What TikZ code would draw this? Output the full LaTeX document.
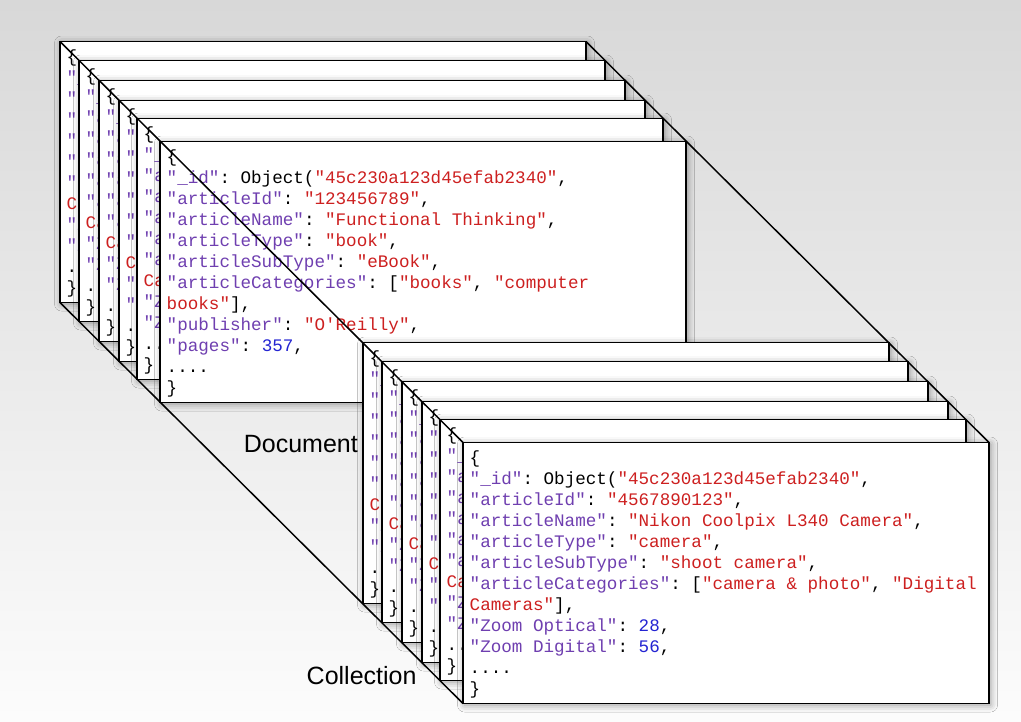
\documentclass[tikz,border=0pt]{standalone}
\usepackage{fontspec}
\setmainfont{Liberation Sans}
\setmonofont{Liberation Mono}
\usetikzlibrary{shadows.blur}

\definecolor{bgtop}{RGB}{216,216,216}
\definecolor{bgbot}{RGB}{252,252,252}
\definecolor{keycol}{RGB}{111,63,176}
\definecolor{strcol}{RGB}{205,32,32}
\definecolor{numcol}{RGB}{36,36,210}

\newcommand{\jk}[1]{\textcolor{keycol}{"#1"}}
\newcommand{\js}[1]{\textcolor{strcol}{"#1"}}
\newcommand{\jn}[1]{\textcolor{numcol}{#1}}
\newcommand{\jsonsize}{\ttfamily\fontsize{17.6}{21}\selectfont\frenchspacing}

\newcommand{\bookdoc}{\rule{0pt}{17pt}\{\\
\jk{\_id}: Object(\js{45c230a123d45efab2340},\\
\jk{articleId}: \js{123456789},\\
\jk{articleName}: \js{Functional Thinking},\\
\jk{articleType}: \js{book},\\
\jk{articleSubType}: \js{eBook},\\
\jk{articleCategories}: [\js{books}, \textcolor{strcol}{"computer}\\
\textcolor{strcol}{books"}],\\
\jk{publisher}: \js{O\textquotesingle Reilly},\\
\jk{pages}: \jn{357},\\
....\\
\}}

\newcommand{\cameradoc}{\rule{0pt}{17pt}\{\\
\jk{\_id}: Object(\js{45c230a123d45efab2340},\\
\jk{articleId}: \js{4567890123},\\
\jk{articleName}: \js{Nikon Coolpix L340 Camera},\\
\jk{articleType}: \js{camera},\\
\jk{articleSubType}: \js{shoot camera},\\
\jk{articleCategories}: [\js{camera \& photo}, \textcolor{strcol}{"Digital}\\
\textcolor{strcol}{Cameras"}],\\
\jk{Zoom Optical}: \jn{28},\\
\jk{Zoom Digital}: \jn{56},\\
....\\
\}}

\tikzset{
  card/.style={draw=black, line width=1.3pt, fill=white, anchor=north west,
    minimum width=526pt, minimum height=261pt, inner sep=0pt, outer sep=0pt,
    blur shadow={shadow blur radius=7pt, shadow xshift=1.5pt, shadow yshift=-1.5pt, shadow opacity=40}},
  json/.style={anchor=north west, align=left, inner sep=0pt, font=\jsonsize},
  edge/.style={line width=1.5pt},
  caption/.style={font=\fontsize{25}{30}\selectfont, inner sep=0pt}
}

\begin{document}
\begin{tikzpicture}[x=1pt,y=-1pt]
\useasboundingbox (0,0) rectangle (1021,721);
\fill[top color=bgtop,bottom color=bgbot] (0,0) rectangle (1021,721);

% document stack
\foreach \o [count=\i] in {0,19,39,59,77,100} {
  \ifnum\i=6 \let\cardtext\bookdoc \else \let\cardtext\cameradoc \fi
  \node[card] (d\i) at (60+\o,41.5+\o) {};
  \node[json] (dt\i) at ([shift={(6.5,4)}]d\i.north west) {\cardtext};
}

% collection stack
\foreach \o [count=\i] in {0,19,39,59,77,100} {
  \node[card] (c\i) at (363+\o,342.5+\o) {};
  \node[json] (ct\i) at ([shift={(6.5,4)}]c\i.north west) {\cameradoc};
}

\draw[edge] (d1.north west) -- (c6.north west);
\draw[edge] (d1.north east) -- (c6.north east);
\draw[edge] (d1.south west) -- (c6.south west);

\node[caption, anchor=base east] (doclabel) at (358,452) {Document};
\node[caption, anchor=base west] (collabel) at (306.5,684) {Collection};
\end{tikzpicture}
\end{document}
